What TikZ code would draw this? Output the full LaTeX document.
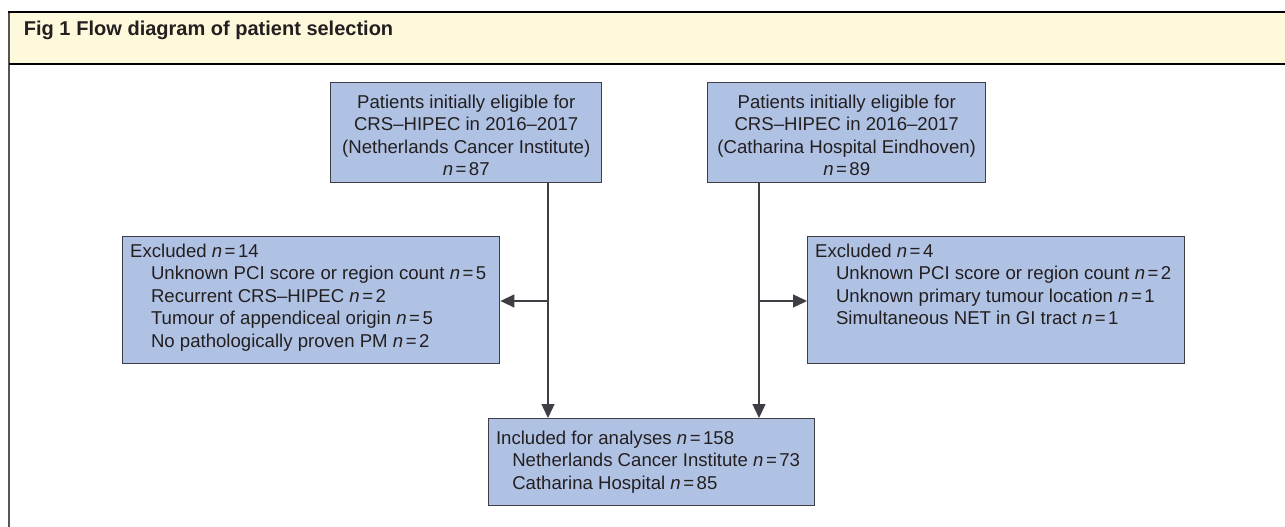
\documentclass[tikz,border=0pt]{standalone}
\usepackage{fontspec}
\setmainfont{Liberation Sans}
\usetikzlibrary{arrows.meta}
\definecolor{boxfill}{RGB}{176,194,228}
\definecolor{boxline}{RGB}{62,62,68}
\definecolor{headfill}{RGB}{255,249,219}
\definecolor{ink}{RGB}{35,31,32}
\definecolor{framegray}{RGB}{85,85,85}
\setlength{\parskip}{0pt}
\newcommand{\nv}[1]{\textit{n}\kern2.5pt=\kern2.5pt#1}
\newcommand{\bbody}[4]{\begin{minipage}[c][#2][t]{#1}\vspace*{#3}#4\end{minipage}}
\newcommand{\ind}[1]{\hspace*{#1}}
\begin{document}
\begin{tikzpicture}[x=1pt,y=-1pt,
  every node/.style={font=\fontsize{18.6}{22.5}\selectfont, text=ink},
  flowbox/.style={draw=boxline, line width=1.4pt, fill=boxfill, inner sep=0pt, anchor=north west},
  conn/.style={draw=boxline, line width=1.4pt, -{Triangle[length=14pt,width=13pt]}}]
\useasboundingbox (0,0) rectangle (1285,527);
% header band and frame
\fill[headfill] (9,12) rectangle (1285,64);
\draw[framegray, line width=2pt] (9,527) -- (9,12);
\draw[black, line width=2pt] (8,12) -- (1285,12);
\draw[black, line width=2pt] (9,64) -- (1285,64);
\node[anchor=base west, inner sep=0pt, font=\fontsize{20}{24}\selectfont\bfseries] (title) at (23.6,36) {Fig 1\hspace{6pt}Flow diagram of patient selection};
% boxes
\node[flowbox] (A) at (330,82) {\bbody{271pt}{100pt}{9.85pt}{\centering
  \strut Patients initially eligible for\\
  \strut CRS--HIPEC in 2016--2017\\
  \strut (Netherlands Cancer Institute)\\
  \strut \nv{87}}};
\node[flowbox] (B) at (707,82) {\bbody{278pt}{100pt}{9.85pt}{\centering
  \strut Patients initially eligible for\\
  \strut CRS--HIPEC in 2016--2017\\
  \strut (Catharina Hospital Eindhoven)\\
  \strut \nv{89}}};
\node[flowbox] (L) at (122,236) {\bbody{377pt}{127pt}{4.85pt}{\raggedright\leftskip=7.5pt\relax
  \strut Excluded \nv{14}\\
  \ind{20.8pt}\strut Unknown PCI score or region count \nv{5}\\
  \ind{20.8pt}\strut Recurrent CRS--HIPEC \nv{2}\\
  \ind{20.8pt}\strut Tumour of appendiceal origin \nv{5}\\
  \ind{20.8pt}\strut No pathologically proven PM \nv{2}}};
\node[flowbox] (R) at (807,236) {\bbody{377pt}{127pt}{4.85pt}{\raggedright\leftskip=7.5pt\relax
  \strut Excluded \nv{4}\\
  \ind{20.8pt}\strut Unknown PCI score or region count \nv{2}\\
  \ind{20.8pt}\strut Unknown primary tumour location \nv{1}\\
  \ind{20.8pt}\strut Simultaneous NET in GI tract \nv{1}}};
\node[flowbox] (I) at (488,418) {\bbody{326pt}{87pt}{9.85pt}{\raggedright\leftskip=7.3pt\relax
  \strut Included for analyses \nv{158}\\
  \ind{16.3pt}\strut Netherlands Cancer Institute \nv{73}\\
  \ind{16.3pt}\strut Catharina Hospital \nv{85}}};
% connectors
\coordinate (ja) at (548,301);
\coordinate (jb) at (759,301);
\draw[conn] (A.south -| ja) -- (I.north -| ja);
\draw[conn] (ja) -- (ja -| L.east);
\draw[conn] (B.south -| jb) -- (I.north -| jb);
\draw[conn] (jb) -- (jb -| R.west);
\end{tikzpicture}
\end{document}
